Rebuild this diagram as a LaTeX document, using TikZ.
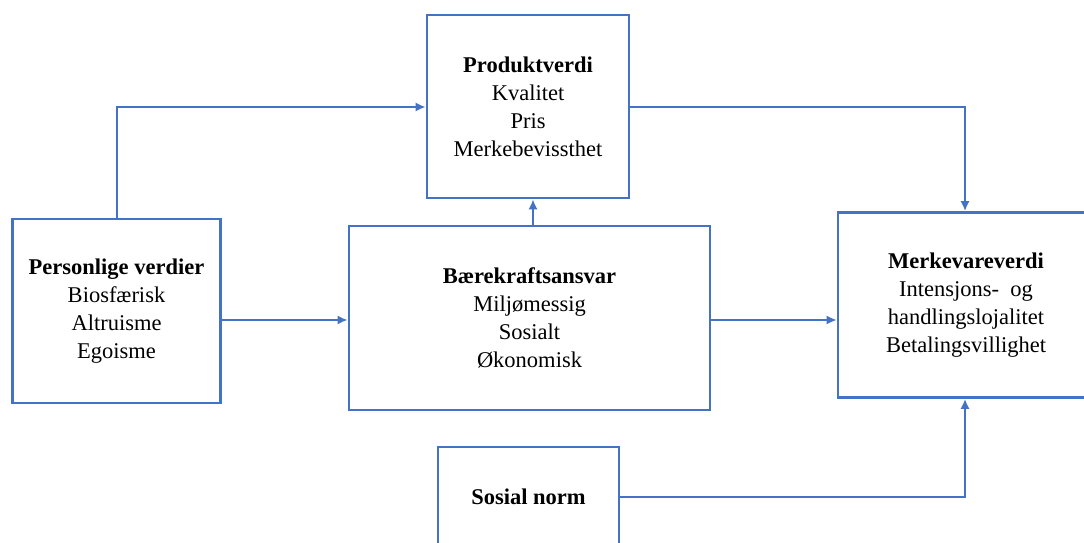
\documentclass[tikz,border=0pt]{standalone}
\usepackage{fontspec}
\setmainfont{Liberation Serif}
\usetikzlibrary{arrows.meta}
\definecolor{boxblue}{HTML}{4472C4}
\tikzset{
	box/.style={draw=boxblue, line width=2pt, align=center, inner sep=0pt,
		font=\fontsize{16}{20}\selectfont},
	link/.style={draw=boxblue, line width=1.8pt, -{Latex[length=7pt,width=6.5pt]}},
}
\begin{document}
\begin{tikzpicture}[x=0.025cm,y=-0.025cm]
	\clip (0,0) rectangle (1084,543);
	% boxes
	\node [box, minimum width=5.05cm, minimum height=4.575cm] (prod) at (528,106.5) {\textbf{Produktverdi}\\Kvalitet\\Pris\\Merkebevissthet};
	\node [box, minimum width=5.2cm, minimum height=4.6cm] (pers) at (116.5,311) {\textbf{Personlige verdier}\\Biosfærisk\\Altruisme\\Egoisme};
	\node [box, minimum width=9.025cm, minimum height=4.6cm] (baer) at (529.5,318) {\textbf{Bærekraftsansvar}\\Miljømessig\\Sosialt\\Økonomisk};
	\node [box, minimum width=6.4cm, minimum height=4.625cm] (merk) at (966,305) {\textbf{Merkevareverdi}\\Intensjons- \ og\\handlingslojalitet\\Betalingsvillighet};
	\node [box, minimum width=4.525cm, minimum height=2.5cm] (sos) at (528.5,497) {\textbf{Sosial norm}};
	% links
	\coordinate (c1) at (117,0);
	\coordinate (c2) at (0,320);
	\coordinate (c3) at (533,0);
	\coordinate (c4) at (965,0);
	\draw [link] (pers.north -| c1) |- (prod.west |- 0,107);
	\draw [link] (pers.east |- c2) -- (baer.west |- c2);
	\draw [link] (baer.north -| c3) -- (prod.south -| c3);
	\draw [link] (baer.east |- c2) -- (merk.west |- c2);
	\draw [link] (prod.east |- 0,107) -| (merk.north -| c4);
	\draw [link] (sos.east) -| (merk.south -| c4);
\end{tikzpicture}
\end{document}
